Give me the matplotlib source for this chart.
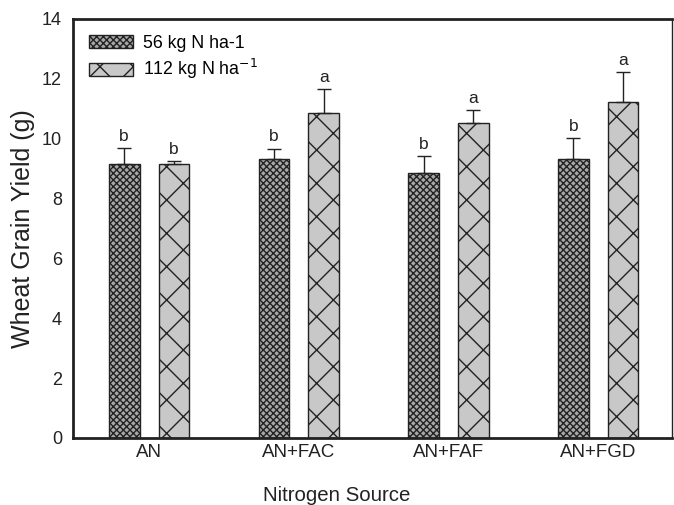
import matplotlib
matplotlib.use("Agg")
import matplotlib.pyplot as plt
import numpy as np

plt.rcParams['font.family'] = ['Liberation Sans', 'DejaVu Sans']
plt.rcParams['hatch.linewidth'] = 1.0

categories = ["AN", "AN+FAC", "AN+FAF", "AN+FGD"]
low_vals = [9.14, 9.31, 8.86, 9.31]
low_err = [0.56, 0.36, 0.56, 0.70]
high_vals = [9.17, 10.85, 10.52, 11.24]
high_err = [0.09, 0.80, 0.44, 0.99]
low_letters = ["b", "b", "b", "b"]
high_letters = ["b", "a", "a", "a"]
series_labels = ["56 kg N ha-1", "112 kg N ha$^{-1}$"]

fig = plt.figure(figsize=(6.74, 5.05), dpi=100)
ax = fig.add_axes([0.1083, 0.1327, 0.889, 0.8297])

x = np.arange(len(categories))
w = 0.205
off = 0.166

b1 = ax.bar(x - off, low_vals, w, color='#a8a8a8', edgecolor='#222222',
            hatch='xxxxx', linewidth=1.0, label=series_labels[0], zorder=2)
b2 = ax.bar(x + off, high_vals, w, color='#c8c8c8', edgecolor='#222222',
            hatch='x', linewidth=1.0, label=series_labels[1], zorder=2)

ax.errorbar(x - off, low_vals, yerr=[np.zeros(4), low_err], fmt='none',
            ecolor='#222222', elinewidth=1.0, capsize=4.7, capthick=1.0, zorder=3)
ax.errorbar(x + off, high_vals, yerr=[np.zeros(4), high_err], fmt='none',
            ecolor='#222222', elinewidth=1.0, capsize=4.7, capthick=1.0, zorder=3)

for i in range(len(categories)):
    ax.annotate(low_letters[i], (x[i] - off, low_vals[i] + low_err[i]),
                xytext=(0, 3), textcoords='offset points', ha='center',
                va='bottom', fontsize=12.5, color='#222222')
    ax.annotate(high_letters[i], (x[i] + off, high_vals[i] + high_err[i]),
                xytext=(0, 3), textcoords='offset points', ha='center',
                va='bottom', fontsize=12.5, color='#222222')

ax.set_xlim(-0.508, 3.494)
ax.set_ylim(0, 14)
ax.set_yticks(np.arange(0, 15, 2))
ax.set_xticks(x)
ax.set_xticklabels(categories)
ax.tick_params(axis='both', length=0, colors='#222222')
ax.tick_params(axis='y', pad=8, labelsize=13)
ax.tick_params(axis='x', pad=4, labelsize=13.5)

for s in ['left', 'bottom', 'top']:
    ax.spines[s].set_linewidth(2.0)
    ax.spines[s].set_color('#222222')
ax.spines['right'].set_linewidth(1.0)
ax.spines['right'].set_color('#222222')

ax.set_ylabel("Wheat Grain Yield (g)", fontsize=18, color='#222222', labelpad=5)
fig.text(0.5, 0.008, "Nitrogen Source", ha='center', va='baseline', fontsize=14.7, color='#222222')

leg = ax.legend(loc='upper left', frameon=False, fontsize=12.8,
                handlelength=2.5, handleheight=0.75, handletextpad=0.55,
                labelspacing=0.3, borderaxespad=0.0, borderpad=0.0,
                bbox_to_anchor=(16 / 599, 1 - 16 / 419))

fig.savefig("out.png", dpi=100)
